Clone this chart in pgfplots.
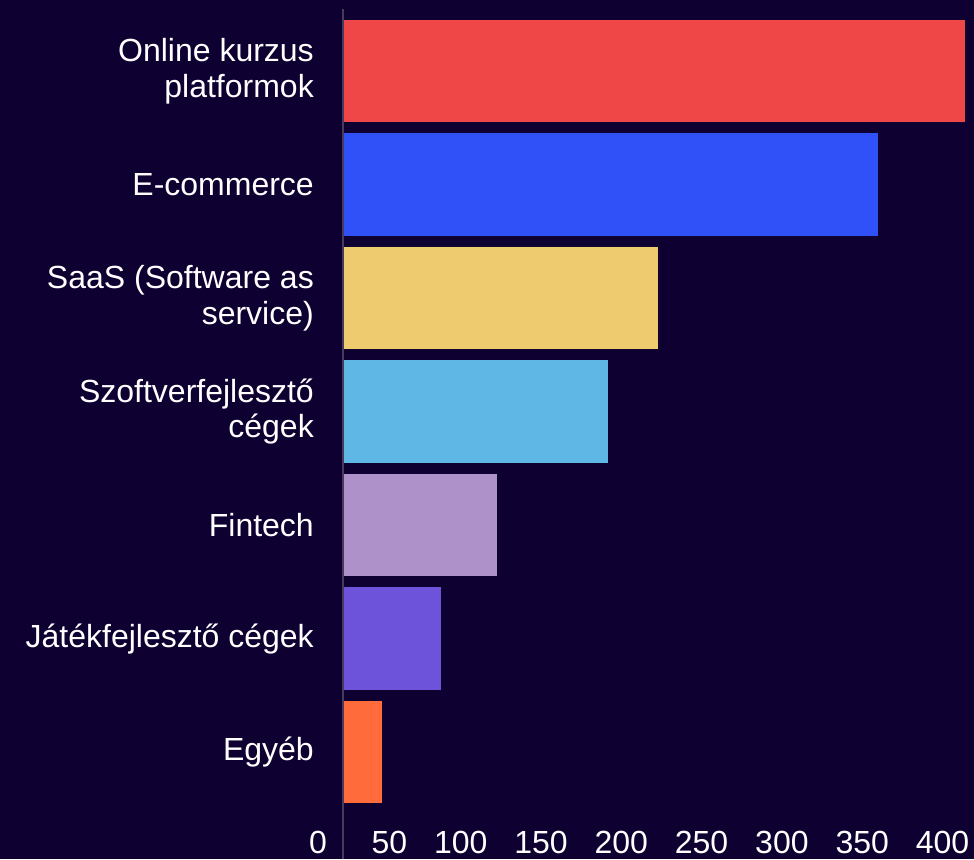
\documentclass[border=0pt]{standalone}
\usepackage{pgfplots}
\pgfplotsset{compat=1.18}
\usepackage{fontspec}
\setmainfont{Liberation Sans}
\definecolor{bg}{HTML}{0E0030}
\definecolor{axisline}{HTML}{463B5E}
\definecolor{cRed}{HTML}{EF4747}
\definecolor{cBlue}{HTML}{3051F8}
\definecolor{cYellow}{HTML}{EECB6E}
\definecolor{cLight}{HTML}{5EB7E5}
\definecolor{cLav}{HTML}{AE91C8}
\definecolor{cViolet}{HTML}{6D53D9}
\definecolor{cOrange}{HTML}{FF6B3B}
\begin{document}
\begin{tikzpicture}
\fill[bg] (0pt,0pt) rectangle (974pt,859pt);
\begin{axis}[
  at={(343pt,50.2pt)}, anchor=south west,
  scale only axis, width=642.4pt, height=794.5pt,
  xmin=0, xmax=400, ymin=-0.5, ymax=6.5,
  xbar, bar width=102.7pt,
  ytick={0,...,6},
  yticklabels={{Egyéb},{Játékfejlesztő cégek},{Fintech},{Szoftverfejlesztő\\cégek},{SaaS (Software as\\service)},{E-commerce},{Online kurzus\\platformok}},
  xtick={0,50,...,400},
  axis line style={draw=none}, major tick length=0pt,
  /pgf/number format/assume math mode=true,
  xticklabel style={anchor=north east, inner sep=0pt, xshift=-16pt, yshift=-22.5pt, font=\fontsize{32}{36}\selectfont, text=white},
  yticklabel style={anchor=east, inner sep=0pt, xshift=-29pt, align=right, font=\fontsize{32}{35.5}\selectfont, text=white},
]
\addplot[draw=none, fill=cOrange, bar shift=0pt] coordinates {(24,0)};
\addplot[draw=none, fill=cViolet, bar shift=0pt] coordinates {(61,1)};
\addplot[draw=none, fill=cLav, bar shift=0pt] coordinates {(96,2)};
\addplot[draw=none, fill=cLight, bar shift=0pt] coordinates {(165,3)};
\addplot[draw=none, fill=cYellow, bar shift=0pt] coordinates {(196,4)};
\addplot[draw=none, fill=cBlue, bar shift=0pt] coordinates {(333,5)};
\addplot[draw=none, fill=cRed, bar shift=0pt] coordinates {(387,6)};
\end{axis}
\draw[line width=2.5pt, axisline] (343pt,0pt) -- (343pt,850pt);
\pgfresetboundingbox
\path[use as bounding box] (0pt,0pt) rectangle (974pt,859pt);
\end{tikzpicture}
\end{document}
